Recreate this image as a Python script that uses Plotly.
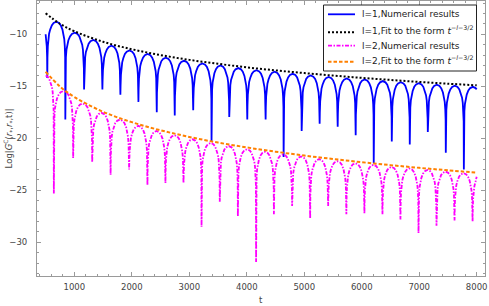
import plotly.graph_objects as go

# ---------------- data ----------------
# fit curves (Log|G| vs t)
fit_t = [500, 750, 1000, 1500, 2000, 2500, 3000, 3500, 4000, 4500, 5000,
         5500, 6000, 6500, 7000, 7500, 8000]
fit_l1 = [-7.98, -8.99, -9.71, -10.72, -11.44, -12.00, -12.46, -12.84, -13.18,
          -13.47, -13.73, -13.97, -14.19, -14.39, -14.58, -14.75, -14.91]
fit_l2 = [-13.60, -15.02, -16.03, -17.45, -18.45, -19.23, -19.87, -20.41, -20.88,
          -21.29, -21.66, -21.99, -22.30, -22.58, -22.84, -23.08, -23.30]

# l=1 numerical: cusp (trough) positions, cusp depths, lobe peaks (head, lobes, tail)
l1_start = (500, -10.0)
l1_end = (8000, -15.3)
l1_trough_t = [529, 843, 1169, 1488, 1801, 2115, 2434, 2747, 3068, 3387, 3695, 4009,
               4328, 4641, 4955, 5268, 5582, 5895, 6209, 6523, 6836, 7150, 7463, 7777]
l1_trough_v = [-14.2, -18.2, -15.3, -15.3, -15.8, -16.5, -17.5, -17.8, -17.3, -20.3,
               -17.95, -18.2, -18.2, -21.8, -19.3, -18.6, -18.9, -19.7, -22.4, -20.3,
               -20.6, -19.4, -21.4, -23.0]
l1_peak = [-8.8, -8.8, -9.85, -10.55, -11.1, -11.55, -11.9, -12.25, -12.55, -12.8, -13.0,
           -13.25, -13.45, -13.6, -13.8, -13.95, -14.1, -14.25, -14.35, -14.5, -14.6,
           -14.7, -14.85, -14.95, -15.05]

# l=2 numerical
l2_start = (500, -14.0)
l2_end = (8000, -23.7)
l2_trough_t = [643, 979, 1310, 1631, 1953, 2272, 2585, 2899, 3213, 3530, 3845, 4162,
               4472, 4789, 5103, 5416, 5733, 6047, 6361, 6674, 6988, 7301, 7615, 7929]
l2_trough_v = [-25.3, -21.9, -22.3, -23.5, -23.0, -24.5, -24.3, -24.3, -28.5, -26.1,
               -27.5, -31.9, -27.3, -26.5, -27.7, -26.5, -27.3, -27.2, -27.3, -27.8,
               -29.1, -28.4, -27.9, -28.0]
l2_peak = [-13.9, -15.45, -16.65, -17.55, -18.2, -18.8, -19.3, -19.7, -20.1, -20.45,
           -20.75, -21.05, -21.3, -21.55, -21.75, -22.0, -22.2, -22.4, -22.55, -22.75,
           -22.9, -23.05, -23.2, -23.35, -23.45]

# shape of one lobe between two cusps (fraction of lobe, drop below lobe peak)
lobe_frac = [0.01, 0.03, 0.06, 0.10, 0.16, 0.25, 0.35, 0.5, 0.65, 0.75, 0.84, 0.90, 0.94, 0.97, 0.99]
lobe_drop = [-3.4, -2.35, -1.65, -1.15, -0.75, -0.35, -0.12, 0.0, -0.12, -0.35, -0.75, -1.15, -1.65, -2.35, -3.4]

# legend texts
legend_names = ["l=1,Numerical results",
                "l=1,Fit to the form <i>t</i><sup>−<i>l</i>−3/2</sup>",
                "l=2,Numerical results",
                "l=2,Fit to the form <i>t</i><sup>−<i>l</i>−3/2</sup>"]


def build(start, end, tr_t, tr_v, peaks):
    xs, ys = [start[0]], [start[1]]
    span = tr_t[1] - tr_t[0]
    a = tr_t[0] - span
    for f, d in zip(lobe_frac, lobe_drop):
        t = a + f * span
        if start[0] < t < tr_t[0]:
            xs.append(t); ys.append(peaks[0] + d)
    for i in range(len(tr_t)):
        xs.append(tr_t[i]); ys.append(tr_v[i])
        if i < len(tr_t) - 1:
            a, b = tr_t[i], tr_t[i + 1]
            for f, d in zip(lobe_frac, lobe_drop):
                xs.append(a + f * (b - a)); ys.append(peaks[i + 1] + d)
    span = tr_t[-1] - tr_t[-2]
    a = tr_t[-1]
    for f, d in zip(lobe_frac, lobe_drop):
        t = a + f * span
        if t < end[0]:
            xs.append(t); ys.append(peaks[-1] + d)
    xs.append(end[0]); ys.append(end[1])
    return xs, ys


l1x, l1y = build(l1_start, l1_end, l1_trough_t, l1_trough_v, l1_peak)
l2x, l2y = build(l2_start, l2_end, l2_trough_t, l2_trough_v, l2_peak)

FONT = "DejaVu Sans"
styles = [dict(color="#0000FF", width=1.8),
          dict(color="#000000", width=2, dash="2px,2px"),
          dict(color="#FF00FF", width=1.8, dash="4px,1.5px,1.5px,1.5px"),
          dict(color="#FF8000", width=2, dash="3.5px,2px")]

fig = go.Figure()
fig.add_trace(go.Scatter(x=l1x, y=l1y, mode="lines", name=legend_names[0], line=styles[0]))
fig.add_trace(go.Scatter(x=fit_t, y=fit_l1, mode="lines", line_shape="spline",
                         name=legend_names[1], line=styles[1]))
fig.add_trace(go.Scatter(x=l2x, y=l2y, mode="lines", name=legend_names[2], line=styles[2]))
fig.add_trace(go.Scatter(x=fit_t, y=fit_l2, mode="lines", line_shape="spline",
                         name=legend_names[3], line=styles[3]))

axis_common = dict(showline=True, linecolor="#9a9a9a", linewidth=1, mirror="allticks",
                   ticks="inside", ticklen=4, tickcolor="#9a9a9a", tickwidth=1,
                   showgrid=False, zeroline=False,
                   tickfont=dict(family=FONT, size=8.5, color="#444444"))
fig.update_xaxes(range=[350, 8145], tickvals=[1000, 2000, 3000, 4000, 5000, 6000, 7000, 8000],
                 minor=dict(dtick=200, tick0=0, ticklen=2, tickcolor="#9a9a9a", ticks="inside"),
                 ticklabelstandoff=3, **axis_common)
fig.update_yaxes(range=[-33.24, -6.8], tickvals=[-10, -15, -20, -25, -30],
                 minor=dict(dtick=1, tick0=0, ticklen=2, tickcolor="#9a9a9a", ticks="inside"),
                 ticklabelstandoff=7, **axis_common)

fig.add_annotation(text="Log|<i>G</i><sup>C</sup>(<i>r</i><sub>*</sub>,<i>r</i><sub>*</sub>,t)|",
                   xref="paper", yref="paper", x=-0.065, y=0.5, textangle=-90,
                   showarrow=False, xanchor="center", yanchor="middle",
                   font=dict(family=FONT, size=8.5, color="#444444"))
fig.add_annotation(text="t", xref="paper", yref="paper", x=0.5, y=-0.088,
                   showarrow=False, xanchor="center", yanchor="middle",
                   font=dict(family=FONT, size=8.5, color="#444444"))

# ---- framed legend drawn in paper coordinates (plot area: x 37..485 px, y 1..276 px)
W, H, L, T = 448.0, 275.0, 37.0, 1.0
px = lambda x: (x - L) / W
py = lambda y: 1 - (y - T) / H
fig.add_shape(type="rect", xref="paper", yref="paper",
              x0=px(323.5), x1=px(476.5), y0=py(71), y1=py(5),
              line=dict(color="#222222", width=1), fillcolor="white", layer="above")
row_y = [14.3, 32.3, 45.7, 61.7]
has_sup = [False, True, False, True]
for name, st, ry, sup in zip(legend_names, styles, row_y, has_sup):
    fig.add_shape(type="line", xref="paper", yref="paper",
                  x0=px(328), x1=px(355), y0=py(ry), y1=py(ry),
                  line=st, layer="above")
    fig.add_annotation(text=name, xref="paper", yref="paper",
                       x=px(359.5), y=py(ry - (2.2 if sup else 0)),
                       xanchor="left", yanchor="middle", showarrow=False,
                       font=dict(family=FONT, size=9, color="#222222"))

fig.update_layout(
    width=489, height=306,
    margin=dict(l=37, r=4, t=1, b=30),
    paper_bgcolor="white", plot_bgcolor="white",
    showlegend=False,
)
fig.write_html("out.html", config={"displayModeBar": False},
               post_script="document.body.style.margin='0';document.body.style.padding='0';")
